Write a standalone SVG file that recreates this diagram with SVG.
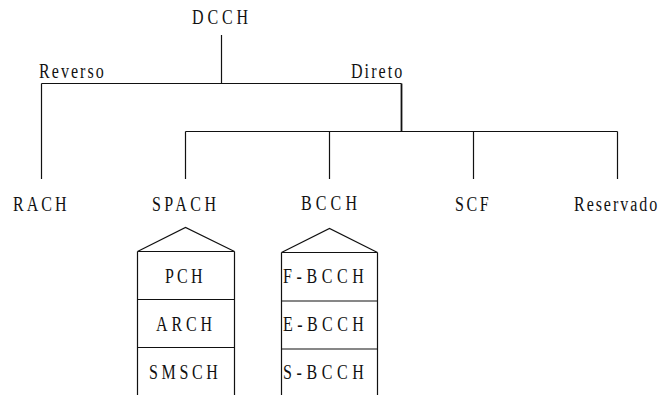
<svg xmlns="http://www.w3.org/2000/svg" width="658" height="395" viewBox="0 0 658 395">
  <style>
    text { font-family: "Liberation Serif", "Times New Roman", serif; font-size: 20px; fill: #111; }
    .ln { fill: none; stroke: #111; stroke-width: 1.2; }
  </style>
  <rect width="658" height="395" fill="#fff"/>

  <!-- tree connectors -->
  <g id="connectors" class="ln">
    <path d="M221.5 35 V83.5"/>
    <path d="M41.5 83.5 H401.5"/>
    <path d="M41.5 83.5 V179"/>
    <path d="M401.5 83.5 V131.5" stroke-width="1.8"/>
    <path d="M185.5 131.5 H617.5"/>
    <path d="M185.5 131.5 V179"/>
    <path d="M329.5 131.5 V179"/>
    <path d="M473.5 131.5 V179"/>
    <path d="M617.5 131.5 V179"/>
  </g>

  <!-- labels use condensed glyphs (scaleX 0.8); textLength is the span / 0.8 -->
  <g id="dcch"><text transform="translate(192 24) scale(0.8 1)" textLength="70" lengthAdjust="spacing">DCCH</text></g>
  <g id="reverso"><text transform="translate(39 78) scale(0.8 1)" textLength="81" lengthAdjust="spacing">Reverso</text></g>
  <g id="direto"><text transform="translate(351 78) scale(0.8 1)" textLength="64" lengthAdjust="spacing">Direto</text></g>

  <g id="rach"><text transform="translate(13 211) scale(0.8 1)" textLength="67" lengthAdjust="spacing">RACH</text></g>

  <g id="spach">
    <text transform="translate(152 211) scale(0.8 1)" textLength="80" lengthAdjust="spacing">SPACH</text>
    <path class="ln" d="M137.5 251.5 L185.5 227.5 L234.5 251.5 Z"/>
    <path class="ln" d="M137.5 251.5 V395 M234.5 251.5 V395 M137.5 299.5 H234.5 M137.5 347.5 H234.5"/>
    <text transform="translate(165 283) scale(0.8 1)" textLength="47" lengthAdjust="spacing">PCH</text>
    <text transform="translate(156 331) scale(0.8 1)" textLength="70" lengthAdjust="spacing">ARCH</text>
    <text transform="translate(149 379) scale(0.8 1)" textLength="86" lengthAdjust="spacing">SMSCH</text>
  </g>

  <g id="bcch">
    <text transform="translate(301 210) scale(0.8 1)" textLength="70" lengthAdjust="spacing">BCCH</text>
    <path class="ln" d="M281.5 252.5 L329.5 228.5 L377.5 252.5 Z"/>
    <path class="ln" d="M281.5 252.5 V395 M377.5 252.5 V395 M281.5 301 H377.5 M281.5 349 H377.5"/>
    <text transform="translate(283 283) scale(0.8 1)" textLength="101" lengthAdjust="spacing">F-BCCH</text>
    <text transform="translate(283 331) scale(0.8 1)" textLength="101" lengthAdjust="spacing">E-BCCH</text>
    <text transform="translate(283 379) scale(0.8 1)" textLength="101" lengthAdjust="spacing">S-BCCH</text>
  </g>

  <g id="scf"><text transform="translate(455 211) scale(0.8 1)" textLength="42" lengthAdjust="spacing">SCF</text></g>
  <g id="reservado"><text transform="translate(574 211) scale(0.8 1)" textLength="104" lengthAdjust="spacing">Reservado</text></g>
</svg>
